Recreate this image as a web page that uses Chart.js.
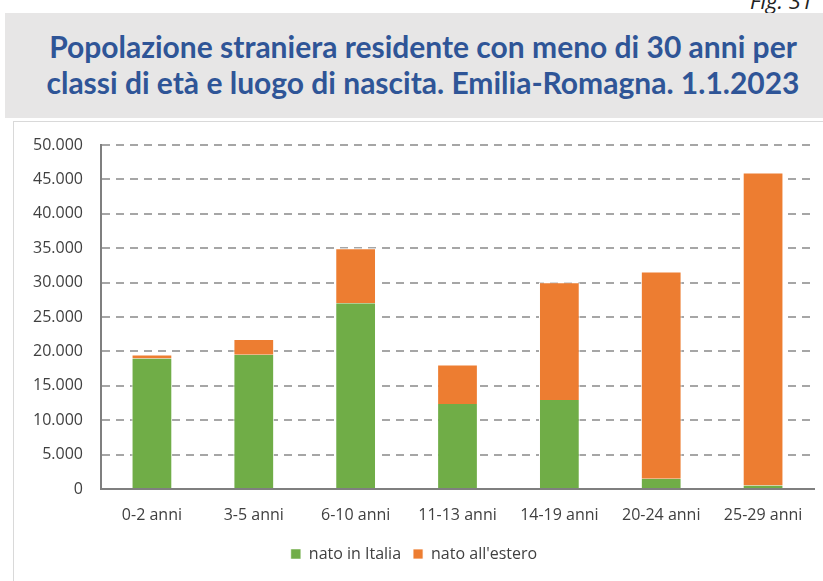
<!DOCTYPE html>
<html lang="it">
<head>
<meta charset="utf-8">
<script src="https://cdn.jsdelivr.net/npm/chart.js@4"></script>
<style>
    body { margin: 0; width: 823px; height: 581px; overflow: hidden; background: #fff; position: relative; font-family: "Open Sans", sans-serif; }
    .fig { position: absolute; left: 750px; top: -15px; font-style: italic; font-size: 22px; color: #222; white-space: nowrap; }
    .title-box { position: absolute; left: 5px; top: 13px; width: 836px; height: 105px; background: #e7e6e6; }
    .title-box h1 { margin: 0; padding-top: 15px; text-align: center; font: bold 30px/36px Lato, sans-serif; color: #2f5597; white-space: nowrap; }
    .chart-box { position: absolute; left: 13px; top: 121px; width: 820px; height: 470px; border: 1px solid #d9d9d9; box-sizing: border-box; }
    .chart-box canvas { position: absolute; left: 0; top: 0; }
</style>
</head>
<body>
<div class="fig">Fig. 31</div>
<div class="title-box">
    <h1>Popolazione straniera residente con meno di 30 anni per<br>classi di età e luogo di nascita. Emilia-Romagna. 1.1.2023</h1>
</div>
<div class="chart-box">
    <canvas id="popChart" width="810" height="460"></canvas>
</div>

<script>
// classi di età
const labels = ["0-2 anni", "3-5 anni", "6-10 anni", "11-13 anni", "14-19 anni", "20-24 anni", "25-29 anni"];
// residenti stranieri nati in Italia
const natoItalia = [18950, 19500, 27000, 12350, 12950, 1500, 500];
// residenti stranieri nati all'estero
const natoEstero = [600, 2300, 8000, 5750, 17100, 30100, 45500];
const yTicks = [0, 5000, 10000, 15000, 20000, 25000, 30000, 35000, 40000, 45000, 50000];

function formatNum(v) {
    return String(v).replace(/\B(?=(\d{3})+(?!\d))/g, ".");
}

let ctx = document.getElementById("popChart").getContext("2d");
let chart = new Chart(ctx, {
    type: "bar",
    data: {
        labels: labels,
        datasets: [{
            label: "nato in Italia",
            data: natoItalia,
            backgroundColor: "#70ad47",
            borderColor: "#ffffff",
            borderWidth: { left: 1, right: 1, top: 0, bottom: 0 },
            barPercentage: 0.8,
            categoryPercentage: 0.5
        }, {
            label: "nato all'estero",
            data: natoEstero,
            backgroundColor: "#ed7d31",
            borderColor: "#ffffff",
            borderWidth: { left: 1, right: 1, top: 1, bottom: 0 },
            barPercentage: 0.8,
            categoryPercentage: 0.5
        }]
    },
    options: {
        responsive: false,
        animation: false,
        layout: { padding: { left: 0, right: 10, top: 23, bottom: 10 } },
        plugins: {
            tooltip: { enabled: false },
            legend: {
                position: "bottom",
                labels: {
                    boxWidth: 10,
                    boxHeight: 10,
                    padding: 12,
                    color: "#404040",
                    font: { family: "Open Sans", size: 16 }
                }
            }
        },
        scales: {
            x: {
                stacked: true,
                grid: { display: false },
                border: { color: "#7f7f7f", width: 2 },
                ticks: { color: "#404040", padding: 9, font: { family: "Open Sans", size: 16 } },
                afterFit: function (scale) { scale.height = 45; }
            },
            y: {
                stacked: true,
                min: 0,
                max: 50000,
                afterBuildTicks: function (scale) { scale.ticks = yTicks.map(v => ({ value: v })); },
                grid: { color: "#a6a6a6", lineWidth: 2, drawTicks: false },
                border: { color: "#7f7f7f", width: 2, dash: [8, 6] },
                ticks: {
                    color: "#404040",
                    padding: 18,
                    font: { family: "Open Sans", size: 16 },
                    callback: function (v) { return formatNum(v); }
                },
                afterFit: function (scale) {
                    scale.width = 87;
                    scale.paddingTop = 0;
                }
            }
        }
    }
});
</script>
</body>
</html>
